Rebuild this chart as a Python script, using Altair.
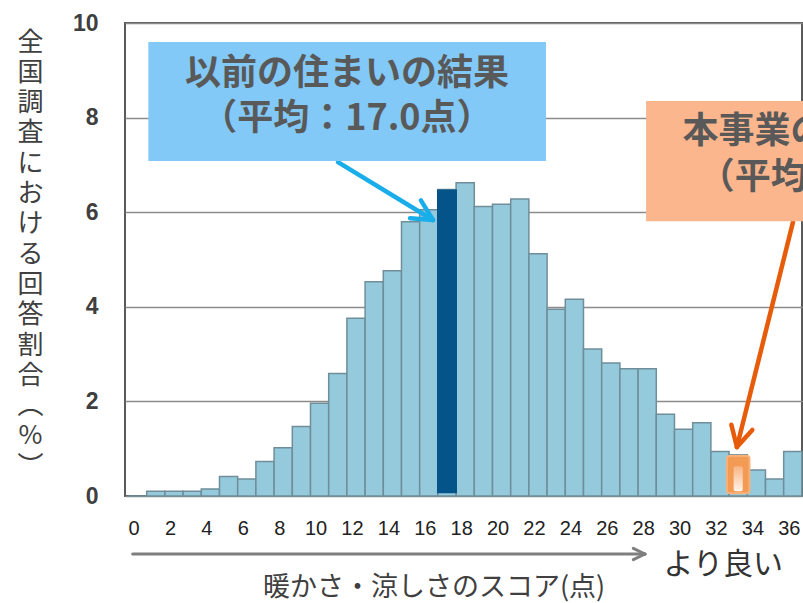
import math
import altair as alt
import pandas as pd

# ---------------- data ----------------
scores = list(range(37))
shares = [0.0, 0.1, 0.1, 0.1, 0.15, 0.41, 0.36, 0.73, 1.02, 1.47,
          1.96, 2.59, 3.76, 4.53, 4.76, 5.80, 6.05, 6.48, 6.62, 6.12,
          6.17, 6.28, 5.12, 3.95, 4.16, 3.11, 2.81, 2.69, 2.69, 1.73,
          1.41, 1.55, 0.94, 0.87, 0.55, 0.36, 0.94]
prev_score = 17          # 以前の住まい 平均
proj_score = 33          # 本事業 平均
x_ticks = list(range(0, 37, 2))
y_ticks = [0, 2, 4, 6, 8, 10]
y_title_chars = list("全国調査における回答割合") + ["︵", "%", "︶"]

prev_lines = ["以前の住まいの結果", "（平均：17.0点）"]
proj_lines = ["本事業の住宅の結果", "（平均：33.0点）"]
x_title = "暖かさ・涼しさのスコア(点)"
better_label = "より良い"

# annotation geometry in data units (x: score, y: %)
prev_box_x = [0.59, 22.44]
prev_box_y = [7.08, 9.60]
proj_box_x = [27.94, 49.8]
proj_box_y = [5.81, 8.35]
prev_text_x = 11.5
prev_text_y = [8.92, 7.97]
proj_text_x = 38.84
proj_text_y = [7.70, 6.72]
prev_arrow = [11.01, 7.06, 16.23, 5.835]
proj_arrow = [36.01, 5.79, 32.93, 1.036]
axis_arrow = [-0.27, -1.226, 27.88, -1.226]
better_pos = [28.9, -1.45]
x_title_pos = [16.29, -1.94]

XDOM = [-0.692, 36.506]
YDOM = [0, 10]
W, H = 677, 473
KX = W / (XDOM[1] - XDOM[0])   # px per score unit
KY = H / (YDOM[1] - YDOM[0])   # px per % unit

# ---------------- frames ----------------
bars = pd.DataFrame({"score": scores, "share": shares})
bars["lo"] = bars["score"] - 0.5
bars["hi"] = bars["score"] + 0.5
bars["base"] = 0.0

prev_df = bars[bars.score == prev_score].copy()
prev_df["lo"] = prev_df["score"] - 0.55
prev_df["hi"] = prev_df["score"] + 0.55
prev_df["base"] = 0.06

proj_df = bars[bars.score == proj_score].copy()
proj_df["lo"] = proj_df["score"] - 0.62
proj_df["hi"] = proj_df["score"] + 0.62
proj_df["top"] = proj_df["share"] - 0.02
proj_df["bot"] = 0.06
proj_inner = proj_df.copy()
proj_inner["lo"] = proj_inner["score"] - 0.25
proj_inner["hi"] = proj_inner["score"] + 0.25
proj_inner["top"] = proj_inner["share"] * 0.72
proj_inner["bot"] = 0.1

xs = alt.Scale(domain=XDOM, nice=False, zero=False)
ys = alt.Scale(domain=YDOM, nice=False, zero=False)

CJK = "Noto Sans CJK JP"

x_axis = alt.Axis(values=x_ticks, grid=False, ticks=False, domain=False,
                  title=None, labelFont="Liberation Sans",
                  labelFontSize=20, labelColor="#222222", labelPadding=22,
                  labelOffset=-4, labelFlush=False, labelOverlap=False)
y_axis = alt.Axis(values=y_ticks, grid=True, gridColor="#8c8c8c", gridWidth=1.5,
                  ticks=False, domain=False, labelFont="Liberation Sans",
                  labelFontWeight="bold", labelFontSize=23, labelColor="#3f3f3f",
                  labelPadding=27,
                  title=y_title_chars, titleAngle=0, titleX=-95, titleY=6,
                  titleAlign="center", titleBaseline="top", titleFont=CJK,
                  titleFontSize=26, titleFontWeight="normal", titleLineHeight=30.3,
                  titleColor="#404040")


def X(field):
    return alt.X(field, scale=xs, axis=x_axis)


def Y(field):
    return alt.Y(field, scale=ys, axis=y_axis)


base_bars = alt.Chart(bars).mark_rect(fill="#94cadc", stroke="#6f8e99",
                                      strokeWidth=1.5).encode(
    x=X("lo:Q"), x2="hi:Q", y=Y("share:Q"), y2="base:Q")

prev_bar = alt.Chart(prev_df).mark_rect(fill="#04548a").encode(
    x=X("lo:Q"), x2="hi:Q", y=Y("share:Q"), y2="base:Q")

proj_bar = alt.Chart(proj_df).mark_rect(fill="#f39b55", stroke="#f7b27c",
                                        strokeWidth=2, cornerRadius=3).encode(
    x=X("lo:Q"), x2="hi:Q", y=Y("top:Q"), y2="bot:Q")
grad = alt.Gradient(gradient="linear",
                    stops=[alt.GradientStop(color="#f7b585", offset=0),
                           alt.GradientStop(color="#fff4ea", offset=1)],
                    x1=0, x2=0, y1=0, y2=1)
proj_glow = alt.Chart(proj_inner).mark_rect(fill=grad, cornerRadius=2).encode(
    x=X("lo:Q"), x2="hi:Q", y=Y("top:Q"), y2="bot:Q")


def segs(rows, color, width, cap="butt"):
    df = pd.DataFrame(rows, columns=["x", "y", "x2", "y2"])
    return alt.Chart(df).mark_rule(color=color, strokeWidth=width,
                                   strokeCap=cap).encode(
        x=X("x:Q"), x2="x2:Q", y=Y("y:Q"), y2="y2:Q")


def arrow(coords, color, width, arm_px, half_deg):
    """shaft + open V head; head arms derived from the shaft direction"""
    x1, y1, x2, y2 = coords
    dxp, dyp = (x2 - x1) * KX, -(y2 - y1) * KY
    n = math.hypot(dxp, dyp)
    bx, by = -dxp / n, -dyp / n
    rows = [[x1, y1, x2, y2]]
    for s in (1, -1):
        a = math.radians(half_deg) * s
        ax = bx * math.cos(a) - by * math.sin(a)
        ay = bx * math.sin(a) + by * math.cos(a)
        rows.append([x2, y2, x2 + ax * arm_px / KX, y2 - ay * arm_px / KY])
    return segs(rows, color, width, cap="round")


def box(bx, by, color):
    df = pd.DataFrame({"x": [bx[0]], "x2": [bx[1]], "y": [by[0]], "y2": [by[1]]})
    return alt.Chart(df).mark_rect(fill=color).encode(
        x=X("x:Q"), x2="x2:Q", y=Y("y:Q"), y2="y2:Q")


def texts(lines, tx, tys, size, weight, color, align="center"):
    df = pd.DataFrame({"t": lines, "x": [tx] * len(lines), "y": tys})
    return alt.Chart(df).mark_text(font=CJK, fontSize=size, fontWeight=weight,
                                   color=color, align=align,
                                   baseline="middle").encode(
        x=X("x:Q"), y=Y("y:Q"), text="t:N")


layers = [
    base_bars, prev_bar, proj_bar, proj_glow,
    arrow(prev_arrow, "#19aeea", 4.5, 23, 27),
    arrow(proj_arrow, "#e65c0a", 4.5, 23, 28),
    box(prev_box_x, prev_box_y, "#82c9f7"),
    box(proj_box_x, proj_box_y, "#fbb68e"),
    texts(prev_lines, prev_text_x, prev_text_y, 36, "bold", "#595959"),
    texts(proj_lines, proj_text_x, proj_text_y, 36, "bold", "#595959"),
    arrow(axis_arrow, "#7f7f7f", 3, 13, 26),
    texts([better_label], better_pos[0], [better_pos[1]], 30, "normal", "#333333", "left"),
    texts([x_title], x_title_pos[0], [x_title_pos[1]], 27, "normal", "#404040"),
]

chart = alt.layer(*layers).properties(
    width=W, height=H,
    autosize=alt.AutoSizeParams(type="none"),
    padding={"left": 125, "top": 23, "right": 1, "bottom": 107},
    background="white",
).configure_view(stroke="#5a5a5a", strokeWidth=2)

chart.save("out.html", embed_options={"renderer": "svg", "actions": False})
